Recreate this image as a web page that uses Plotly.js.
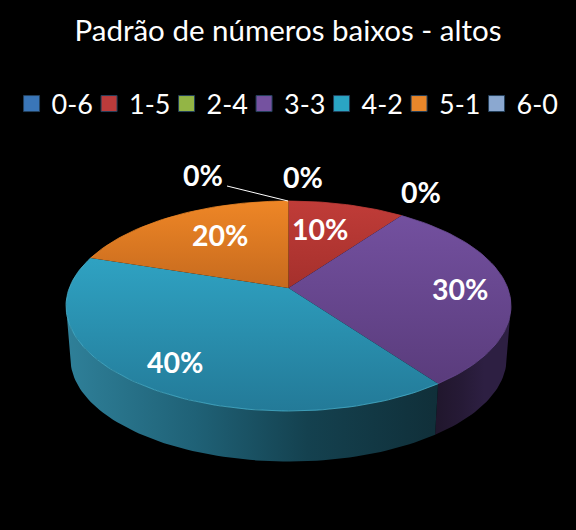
<!DOCTYPE html>
<html><head><meta charset="utf-8">
<script src="https://cdn.plot.ly/plotly-3.0.1.min.js"></script>
<style>html,body{margin:0;padding:0;background:#000}
.legend .scrollbox{clip-path:none !important}</style></head>
<body><div id="chart" style="width:576px;height:530px"></div>
<script>
const categories = ['0-6','1-5','2-4','3-3','4-2','5-1','6-0'];
const values = [0,10,0,30,40,20,0];
const legendColors = ['#3a76b8','#bb3b3b','#93b545','#7552a0','#2aa5c4','#e8862a','#8ba8d0'];
const topStart = ['#3a76b8','#c03c38','#93b545','#73509f','#2fa2c2','#ee8626','#8ba8d0'];
const topEnd = ['#2f6299','#a5302c','#7d9a3a','#5a3c7c','#237a98','#c66a1e','#7890b4'];
const sideA = ['#1d3c5c','#5c1c1a','#4a5c20','#20162c','#2f8099','#7a4414','#44546a'];
const sideB = ['#1d3c5c','#5c1c1a','#4a5c20','#261a36','#1f6176','#7a4414','#44546a'];
const sideC = ['#1d3c5c','#5c1c1a','#4a5c20','#2d1f42','#14414f','#7a4414','#44546a'];
const sideD = ['#1d3c5c','#5c1c1a','#4a5c20','#2d1f42','#102f39','#7a4414','#44546a'];
const rimColors = ['#3a76b8','#c03c38','#93b545','#6a4a92','#48b0cc','#ee8626','#8ba8d0'];
const labelPositions = [[303,177],[320,229],[421,192],[460,289],[175,362],[220,235],[203,175]];

// Perspective pie geometry
const cx = 288.5, cyTop = 288, cyBottom = 341, persp = 0.1714, rx = 219.2, ry = 101.9, bottomScale = 0.98;
const silhouette = Math.acos(-persp)*180/Math.PI; // angle of the widest rim point
function project(deg, cy, s){
  const t = deg*Math.PI/180, h = Math.sin(t), v = -Math.cos(t), d = 1 - persp*v;
  return [cx + s*rx*h/d, cy + s*ry*v/d];
}
function arc(a0, a1, cy, s){
  const pts = [], n = Math.max(2, Math.ceil(Math.abs(a1-a0)/1.5));
  for(let i=0;i<=n;i++) pts.push(project(a0+(a1-a0)*i/n, cy, s));
  return pts;
}
const total = values.reduce((a,b)=>a+b,0);
const traces = [], tops = [], rims = [];
let acc = 0;
values.forEach((val,i)=>{
  const a0 = acc/total*360, a1 = (acc+val)/total*360; acc += val;
  if(val===0) return;
  const up = arc(a0,a1,cyTop,1);
  const s0 = Math.max(a0,silhouette), s1 = Math.min(a1,360-silhouette);
  if(s1>s0){
    const sUp = arc(s0,s1,cyTop,1), sDown = arc(s1,s0,cyBottom,bottomScale);
    const side = sUp.concat(sDown); side.push(sUp[0]);
    traces.push({x:side.map(p=>p[0]), y:side.map(p=>p[1]), mode:'lines', line:{width:0}, fill:'toself',
      fillgradient:{type:'horizontal', colorscale:[[0,sideA[i]],[0.35,sideB[i]],[0.65,sideC[i]],[1,sideD[i]]]},
      showlegend:false, hoverinfo:'skip'});
  }
  const face = [[cx,cyTop]].concat(up); face.push([cx,cyTop]);
  tops.push({x:face.map(p=>p[0]), y:face.map(p=>p[1]), mode:'lines', line:{width:0}, fill:'toself',
    fillgradient:{type:'vertical', colorscale:[[0,topEnd[i]],[1,topStart[i]]]},
    showlegend:false, hoverinfo:'skip'});
  rims.push({x:up.map(p=>p[0]), y:up.map(p=>p[1]), mode:'lines', line:{width:0.8,color:rimColors[i]},
    showlegend:false, hoverinfo:'skip'});
});
const legendTraces = categories.map((c,i)=>({x:[null], y:[null], name:c, mode:'markers',
  marker:{symbol:'square', size:16, color:legendColors[i], line:{width:1,color:'#24405c'}}, hoverinfo:'skip'}));

const annotations = categories.map((c,i)=>({x:labelPositions[i][0], y:labelPositions[i][1], xref:'x', yref:'y',
  text:Math.round(values[i]/total*100)+'%', showarrow:false,
  font:{family:'Lato, Carlito, sans-serif', size:28.5, color:'#fff', weight:700}, xanchor:'center', yanchor:'middle'}));

const layout = {
  width:576, height:530, margin:{l:0,r:0,t:0,b:0}, paper_bgcolor:'#000', plot_bgcolor:'#000',
  title:{text:'Padrão de números baixos - altos', x:0.5, xanchor:'center', y:1-31/530, yanchor:'middle',
    font:{family:'Lato, Carlito, sans-serif', size:29.5, color:'#fff'}},
  xaxis:{range:[0,576], visible:false, fixedrange:true},
  yaxis:{range:[530,0], visible:false, fixedrange:true},
  legend:{orientation:'h', x:0.027, xanchor:'left', y:1-104/530, yanchor:'middle', entrywidth:36.5, entrywidthmode:'pixels', indentation:-4,
    font:{family:'Lato, Carlito, sans-serif', size:27, color:'#fff'}, itemsizing:'trace', bgcolor:'rgba(0,0,0,0)', itemclick:false, itemdoubleclick:false},
  shapes:[{type:'line', xref:'x', yref:'y', x0:227, y0:186, x1:288, y1:201, line:{color:'#fff', width:1}}],
  annotations
};
Plotly.newPlot('chart', traces.concat(tops, rims, legendTraces), layout, {displayModeBar:false, staticPlot:true});
</script></body></html>
